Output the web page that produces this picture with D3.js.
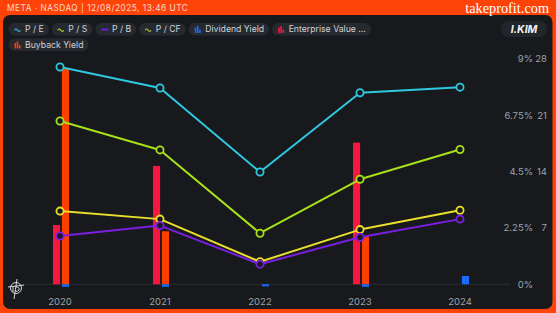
<!DOCTYPE html>
<html lang="en">
<head>
<meta charset="UTF-8">
<script src="https://d3js.org/d3.v7.min.js"></script>
<style>
  body { margin: 0; background: #fe4308; }
  svg { display: block; font-family: Inter, "Noto Sans", sans-serif; }
</style>
</head>
<body>
<div id="chart"></div>
<script>
// data
const years = ["2020", "2021", "2022", "2023", "2024"];
const pe = [27.0, 24.4, 13.95, 23.8, 24.5];
const ps = [9.1, 8.1, 2.8, 6.8, 9.2];
const pb = [6.0, 7.3, 2.5, 5.85, 8.1];
const pcf = [20.3, 16.7, 6.35, 13.05, 16.75];
const dividendYield = [-0.1, -0.1, -0.08, -0.1, 0.33];
const evYield = [2.37, 4.73, 0, 5.66, 0];
const buybackYield = [8.6, 2.12, 0, 1.9, 0];
const ratioTicks = [7, 14, 21, 28];
const pctTicks = [0, 2.25, 4.5, 6.75, 9];

const W = 556, H = 313;
const svg = d3.select("#chart").append("svg").attr("width", W).attr("height", H);

// frame
svg.append("rect").attr("width", W).attr("height", H).attr("fill", "#fe4308");
svg.append("rect").attr("x", 3).attr("y", 15).attr("width", 549.5).attr("height", 294)
  .attr("rx", 7).attr("fill", "#17191d");

svg.append("text").attr("x", 7).attr("y", 10.5).attr("fill", "#ffd9cc")
  .attr("font-size", 8.3).attr("letter-spacing", 0.5)
  .text("META · NASDAQ | 12/08/2025, 13:46 UTC");
svg.append("text").attr("x", 549).attr("y", 13).attr("text-anchor", "end")
  .attr("fill", "#fff").attr("font-size", 14.3)
  .attr("font-family", "'Liberation Serif', 'DejaVu Serif', serif")
  .text("takeprofit.com");

// scales
const x = d3.scalePoint().domain(years).range([60, 460]);
const yR = d3.scaleLinear().domain([0, 28]).range([284.3, 59]);
const yP = d3.scaleLinear().domain([0, 9]).range([284.3, 59]);
const slot = d3.scaleBand().domain(["ev", "buyback"]).range([-7, 9]).paddingInner(0.2);

// baseline grid
svg.append("line").attr("x1", 23).attr("x2", 510)
  .attr("y1", yP(0)).attr("y2", yP(0)).attr("stroke", "#2a2d33").attr("stroke-width", 1);

// axis labels on the right
const axisG = svg.append("g").attr("font-size", 9.5).attr("fill", "#9ea3aa");
pctTicks.forEach(t => {
  axisG.append("text").attr("x", 533).attr("y", yP(t)).attr("dy", "0.35em")
    .attr("text-anchor", "end").text(d3.format("~g")(t) + "%");
});
ratioTicks.forEach(t => {
  axisG.append("text").attr("x", 547).attr("y", yR(t)).attr("dy", "0.35em")
    .attr("text-anchor", "end").text(t);
});
years.forEach(yv => {
  axisG.append("text").attr("x", x(yv)).attr("y", 302).attr("dy", "0.35em")
    .attr("text-anchor", "middle").text(yv);
});

// bars
function bars(vals, key, color) {
  svg.append("g").selectAll("rect")
    .data(vals.map((v, i) => ({ year: years[i], v })).filter(d => d.v !== 0))
    .join("rect")
    .attr("x", d => x(d.year) + slot(key))
    .attr("width", slot.bandwidth())
    .attr("y", d => Math.min(yP(d.v), yP(0)))
    .attr("height", d => Math.abs(yP(d.v) - yP(0)))
    .attr("fill", color);
}
bars(evYield, "ev", "#f8163f");
bars(buybackYield, "buyback", "#ff3f00");
bars(dividendYield, "buyback", "#1a6bff");

// lines
const line = d3.line().x((d, i) => x(years[i])).y(d => yR(d));
function series(vals, color) {
  svg.append("path").datum(vals).attr("d", line).attr("fill", "none")
    .attr("stroke", color).attr("stroke-width", 2).attr("stroke-linejoin", "round");
  svg.append("g").selectAll("circle").data(vals).join("circle")
    .attr("cx", (d, i) => x(years[i])).attr("cy", d => yR(d)).attr("r", 3.6)
    .attr("fill", "#17191d").attr("stroke", color).attr("stroke-width", 1.8);
}
series(pe, "#2ec8e0");
series(pcf, "#a8e01a");
series(ps, "#eadf2c");
series(pb, "#7a1fe0");

// legend
const legendItems = [
  { name: "P / E", color: "#2ec8e0", kind: "line", row: 0 },
  { name: "P / S", color: "#c8d92a", kind: "line", row: 0 },
  { name: "P / B", color: "#6a1fd0", kind: "rect", row: 0 },
  { name: "P / CF", color: "#a8d02a", kind: "line", row: 0 },
  { name: "Dividend Yield", color: "#1a6bff", kind: "bar", row: 0 },
  { name: "Enterprise Value ...", color: "#f8163f", kind: "bar", row: 0 },
  { name: "Buyback Yield", color: "#ff3f00", kind: "bar", row: 1 }
];
const rowX = [8.5, 8.5];
const rowY = [23, 38.5];
legendItems.forEach(it => {
  const g = svg.append("g").attr("transform", `translate(${rowX[it.row]},${rowY[it.row]})`);
  const bg = g.append("rect").attr("height", 12.5).attr("rx", 6.25).attr("fill", "#262a30");
  const t = g.append("text").attr("x", 16.5).attr("y", 6.4).attr("dy", "0.35em")
    .attr("font-size", 8.7).attr("fill", "#cfd2d7").text(it.name);
  const w = 16.5 + t.node().getComputedTextLength() + 5;
  bg.attr("width", w);
  if (it.kind === "line") {
    g.append("path").attr("d", "M6,7.2 q1.5,-2.4 3,0 t3,0").attr("fill", "none")
      .attr("stroke", it.color).attr("stroke-width", 1.1);
  } else if (it.kind === "rect") {
    g.append("rect").attr("x", 6).attr("y", 5.5).attr("width", 7).attr("height", 2).attr("fill", it.color);
  } else {
    [[6, 3.5, 5.5], [8.2, 2, 7], [10.4, 5.5, 3.5]].forEach(b => {
      g.append("rect").attr("x", b[0]).attr("y", b[1] + 1).attr("width", 1.6)
        .attr("height", b[2]).attr("fill", it.color);
    });
  }
  rowX[it.row] += w + 3;
});

// user badge
svg.append("rect").attr("x", 501).attr("y", 21).attr("width", 46).attr("height", 16)
  .attr("rx", 8).attr("fill", "#22252a");
svg.append("text").attr("x", 524).attr("y", 29).attr("dy", "0.35em").attr("text-anchor", "middle")
  .attr("font-size", 10.5).attr("font-style", "italic").attr("font-weight", 700)
  .attr("fill", "#f2f2f2").text("I.KIM");

// small sketch logo bottom-left
const logo = svg.append("g").attr("transform", "translate(16,288)")
  .attr("fill", "none").attr("stroke", "#e8e8e8").attr("stroke-width", 0.9);
logo.append("circle").attr("r", 5.5);
logo.append("path").attr("d", "M-8,-1 L8,-3 M1,-9 L-2,11 M-3,-2 L-3,4 M0,-1 q4,0 3,3 q-1,2 -4,1");
</script>
</body>
</html>
